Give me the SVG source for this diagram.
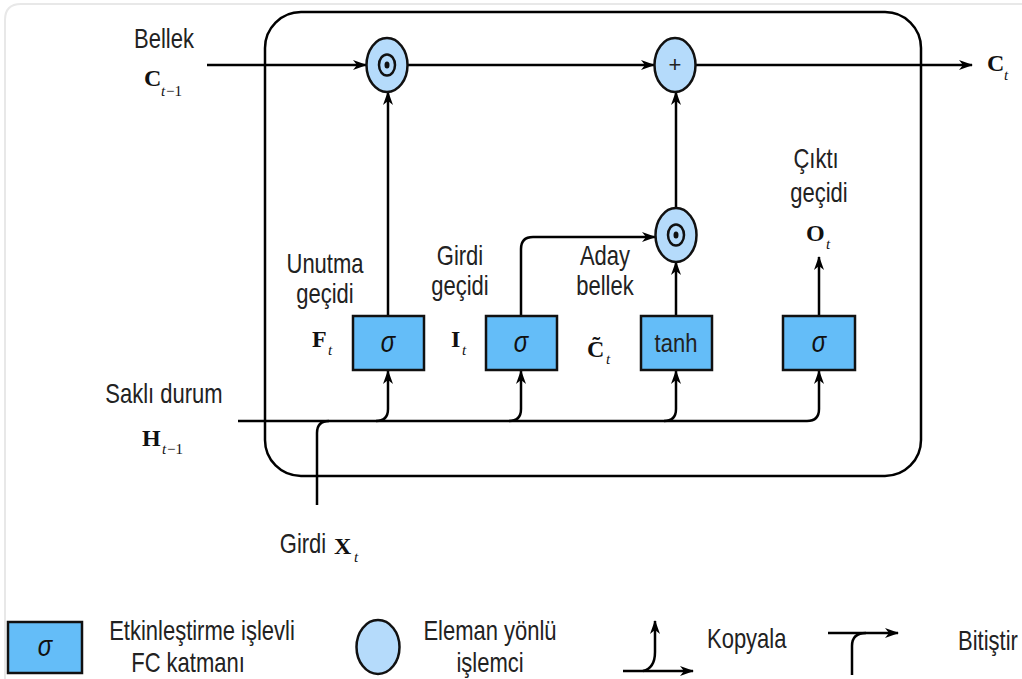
<svg xmlns="http://www.w3.org/2000/svg" width="1022" height="679" viewBox="0 0 1022 679">
<defs>
<marker id="ah" viewBox="0 0 14 10" refX="13" refY="5" markerWidth="14" markerHeight="10" markerUnits="userSpaceOnUse" orient="auto">
<path d="M0,0 L14,5 L0,10 L4,5 z" fill="#000"/>
</marker>
<style>
.s{font-family:"Liberation Sans",Arial,sans-serif;font-size:22px;fill:#222;text-anchor:middle}
.sl{font-family:"Liberation Sans",Arial,sans-serif;font-size:22px;fill:#222}
.m{font-family:"Liberation Serif","Times New Roman",serif;font-size:24px;font-weight:bold;fill:#111}
.sub{font-family:"Liberation Serif","Times New Roman",serif;font-size:15px;font-style:italic;fill:#111}
.sub1{font-family:"Liberation Serif","Times New Roman",serif;font-size:15px;fill:#111}
.box{fill:#64bdf8;stroke:#111;stroke-width:2.5}
.op{fill:#b5dbfb;stroke:#111;stroke-width:2.5}
.ln{fill:none;stroke:#000;stroke-width:2.5}
.arr{fill:none;stroke:#000;stroke-width:2.5;marker-end:url(#ah)}
.g{font-family:"Liberation Sans",Arial,sans-serif;font-size:24px;font-style:italic;fill:#111;text-anchor:middle}
</style>
</defs>
<rect width="1022" height="679" fill="#fff"/>
<path d="M5,679 V20 Q5,4 21,4 H1022" fill="none" stroke="#e8e8e8" stroke-width="2"/>

<g id="cell">
<rect x="265" y="12" width="656" height="464" rx="36" ry="36" class="ln"/>
</g>

<g id="connectors">
<line x1="207" y1="65" x2="366" y2="65" class="arr"/>
<line x1="408" y1="65" x2="654" y2="65" class="arr"/>
<line x1="696" y1="65" x2="972" y2="65" class="arr"/>
<line x1="388" y1="316" x2="388" y2="92" class="arr"/>
<path d="M521,316 V249 Q521,237 533,237 H655" class="arr"/>
<line x1="676" y1="316" x2="676" y2="262" class="arr"/>
<line x1="676" y1="208" x2="676" y2="92" class="arr"/>
<line x1="819" y1="316" x2="819" y2="257" class="arr"/>
<path d="M238,421 H807 Q819,421 819,409 V371" class="arr"/>
<path d="M376,421 Q388,421 388,409 V371" class="arr"/>
<path d="M509,421 Q521,421 521,409 V371" class="arr"/>
<path d="M664,421 Q676,421 676,409 V371" class="arr"/>
<path d="M317,505 V433 Q317,421 329,421" class="ln"/>
</g>

<g id="mul1">
<ellipse cx="387" cy="65" rx="20.5" ry="27" class="op"/>
<ellipse cx="387" cy="65" rx="8" ry="10.5" fill="none" stroke="#111" stroke-width="2.5"/>
<ellipse cx="387" cy="65" rx="2.5" ry="3.5" fill="#111"/>
</g>
<g id="add">
<ellipse cx="675" cy="65" rx="20.5" ry="27" class="op"/>
<text x="675" y="72" class="s" font-size="18" fill="#111">+</text>
</g>
<g id="mul2">
<ellipse cx="676" cy="235" rx="20.5" ry="27" class="op"/>
<ellipse cx="676" cy="235" rx="8" ry="10.5" fill="none" stroke="#111" stroke-width="2.5"/>
<ellipse cx="676" cy="235" rx="2.5" ry="3.5" fill="#111"/>
</g>

<g id="forget">
<rect x="353" y="316" width="71" height="54" class="box"/>
<text class="g" transform="translate(388,352) scale(1,1.2)">σ</text>
</g>
<g id="input">
<rect x="486" y="316" width="71" height="54" class="box"/>
<text class="g" transform="translate(521,352) scale(1,1.2)">σ</text>
</g>
<g id="cand">
<rect x="641" y="316" width="71" height="54" class="box"/>
<text class="s" transform="translate(676,352) scale(1,1.2)" fill="#111">tanh</text>
</g>
<g id="output">
<rect x="783" y="316" width="72" height="54" class="box"/>
<text class="g" transform="translate(819,352) scale(1,1.2)">σ</text>
</g>

<g id="labels">
<text class="s" transform="translate(164,48) scale(1,1.27)">Bellek</text>
<text class="m" x="144" y="86">C</text><text class="sub" x="161" y="96">t</text><text class="sub1" x="166" y="96">−1</text>
<text class="m" x="987" y="71">C</text><text class="sub" x="1004" y="80">t</text>

<text class="s" transform="translate(325,273) scale(1,1.27)">Unutma</text>
<text class="s" transform="translate(325,303) scale(1,1.27)">geçidi</text>
<text class="m" x="312" y="347">F</text><text class="sub" x="328" y="355">t</text>

<text class="s" transform="translate(460,265) scale(1,1.27)">Girdi</text>
<text class="s" transform="translate(460,295) scale(1,1.27)">geçidi</text>
<text class="m" x="451" y="347">I</text><text class="sub" x="462" y="355">t</text>

<text class="s" transform="translate(605,265) scale(1,1.27)">Aday</text>
<text class="s" transform="translate(605,295) scale(1,1.27)">bellek</text>
<text class="m" x="587" y="357">C&#x303;</text><text class="sub" x="606" y="364">t</text>

<text class="s" transform="translate(816,168) scale(1,1.27)">Çıktı</text>
<text class="s" transform="translate(819,202) scale(1,1.27)">geçidi</text>
<text class="m" x="806" y="241">O</text><text class="sub" x="826" y="249">t</text>

<text class="s" transform="translate(164,403) scale(1,1.27)">Saklı durum</text>
<text class="m" x="142" y="446">H</text><text class="sub" x="162" y="454">t</text><text class="sub1" x="167" y="454">−1</text>

<text class="s" transform="translate(303,553) scale(1,1.27)">Girdi</text>
<text class="m" x="334" y="554">X</text><text class="sub" x="354" y="562">t</text>
</g>

<g id="legend-fc">
<rect x="8" y="622" width="74" height="51" class="box"/>
<text class="g" transform="translate(45,656) scale(1,1.2)">σ</text>
<text class="s" transform="translate(202,640) scale(1,1.27)">Etkinleştirme işlevli</text>
<text class="s" transform="translate(188,672) scale(1,1.27)">FC katmanı</text>
</g>
<g id="legend-op">
<ellipse cx="378" cy="647" rx="21.5" ry="27" class="op"/>
<text class="s" transform="translate(490,640) scale(1,1.27)">Eleman yönlü</text>
<text class="s" transform="translate(490,672) scale(1,1.27)">işlemci</text>
</g>
<g id="legend-copy">
<line x1="623" y1="671" x2="693" y2="671" class="arr"/>
<path d="M643,671 Q655,668 655,652 V621" class="arr"/>
<text class="sl" transform="translate(707,648) scale(1,1.27)">Kopyala</text>
</g>
<g id="legend-concat">
<line x1="828" y1="633" x2="898" y2="633" class="arr"/>
<path d="M852,675 V646 Q852,633 866,633" class="ln"/>
<text class="sl" transform="translate(958,650) scale(1,1.27)">Bitiştir</text>
</g>
</svg>
